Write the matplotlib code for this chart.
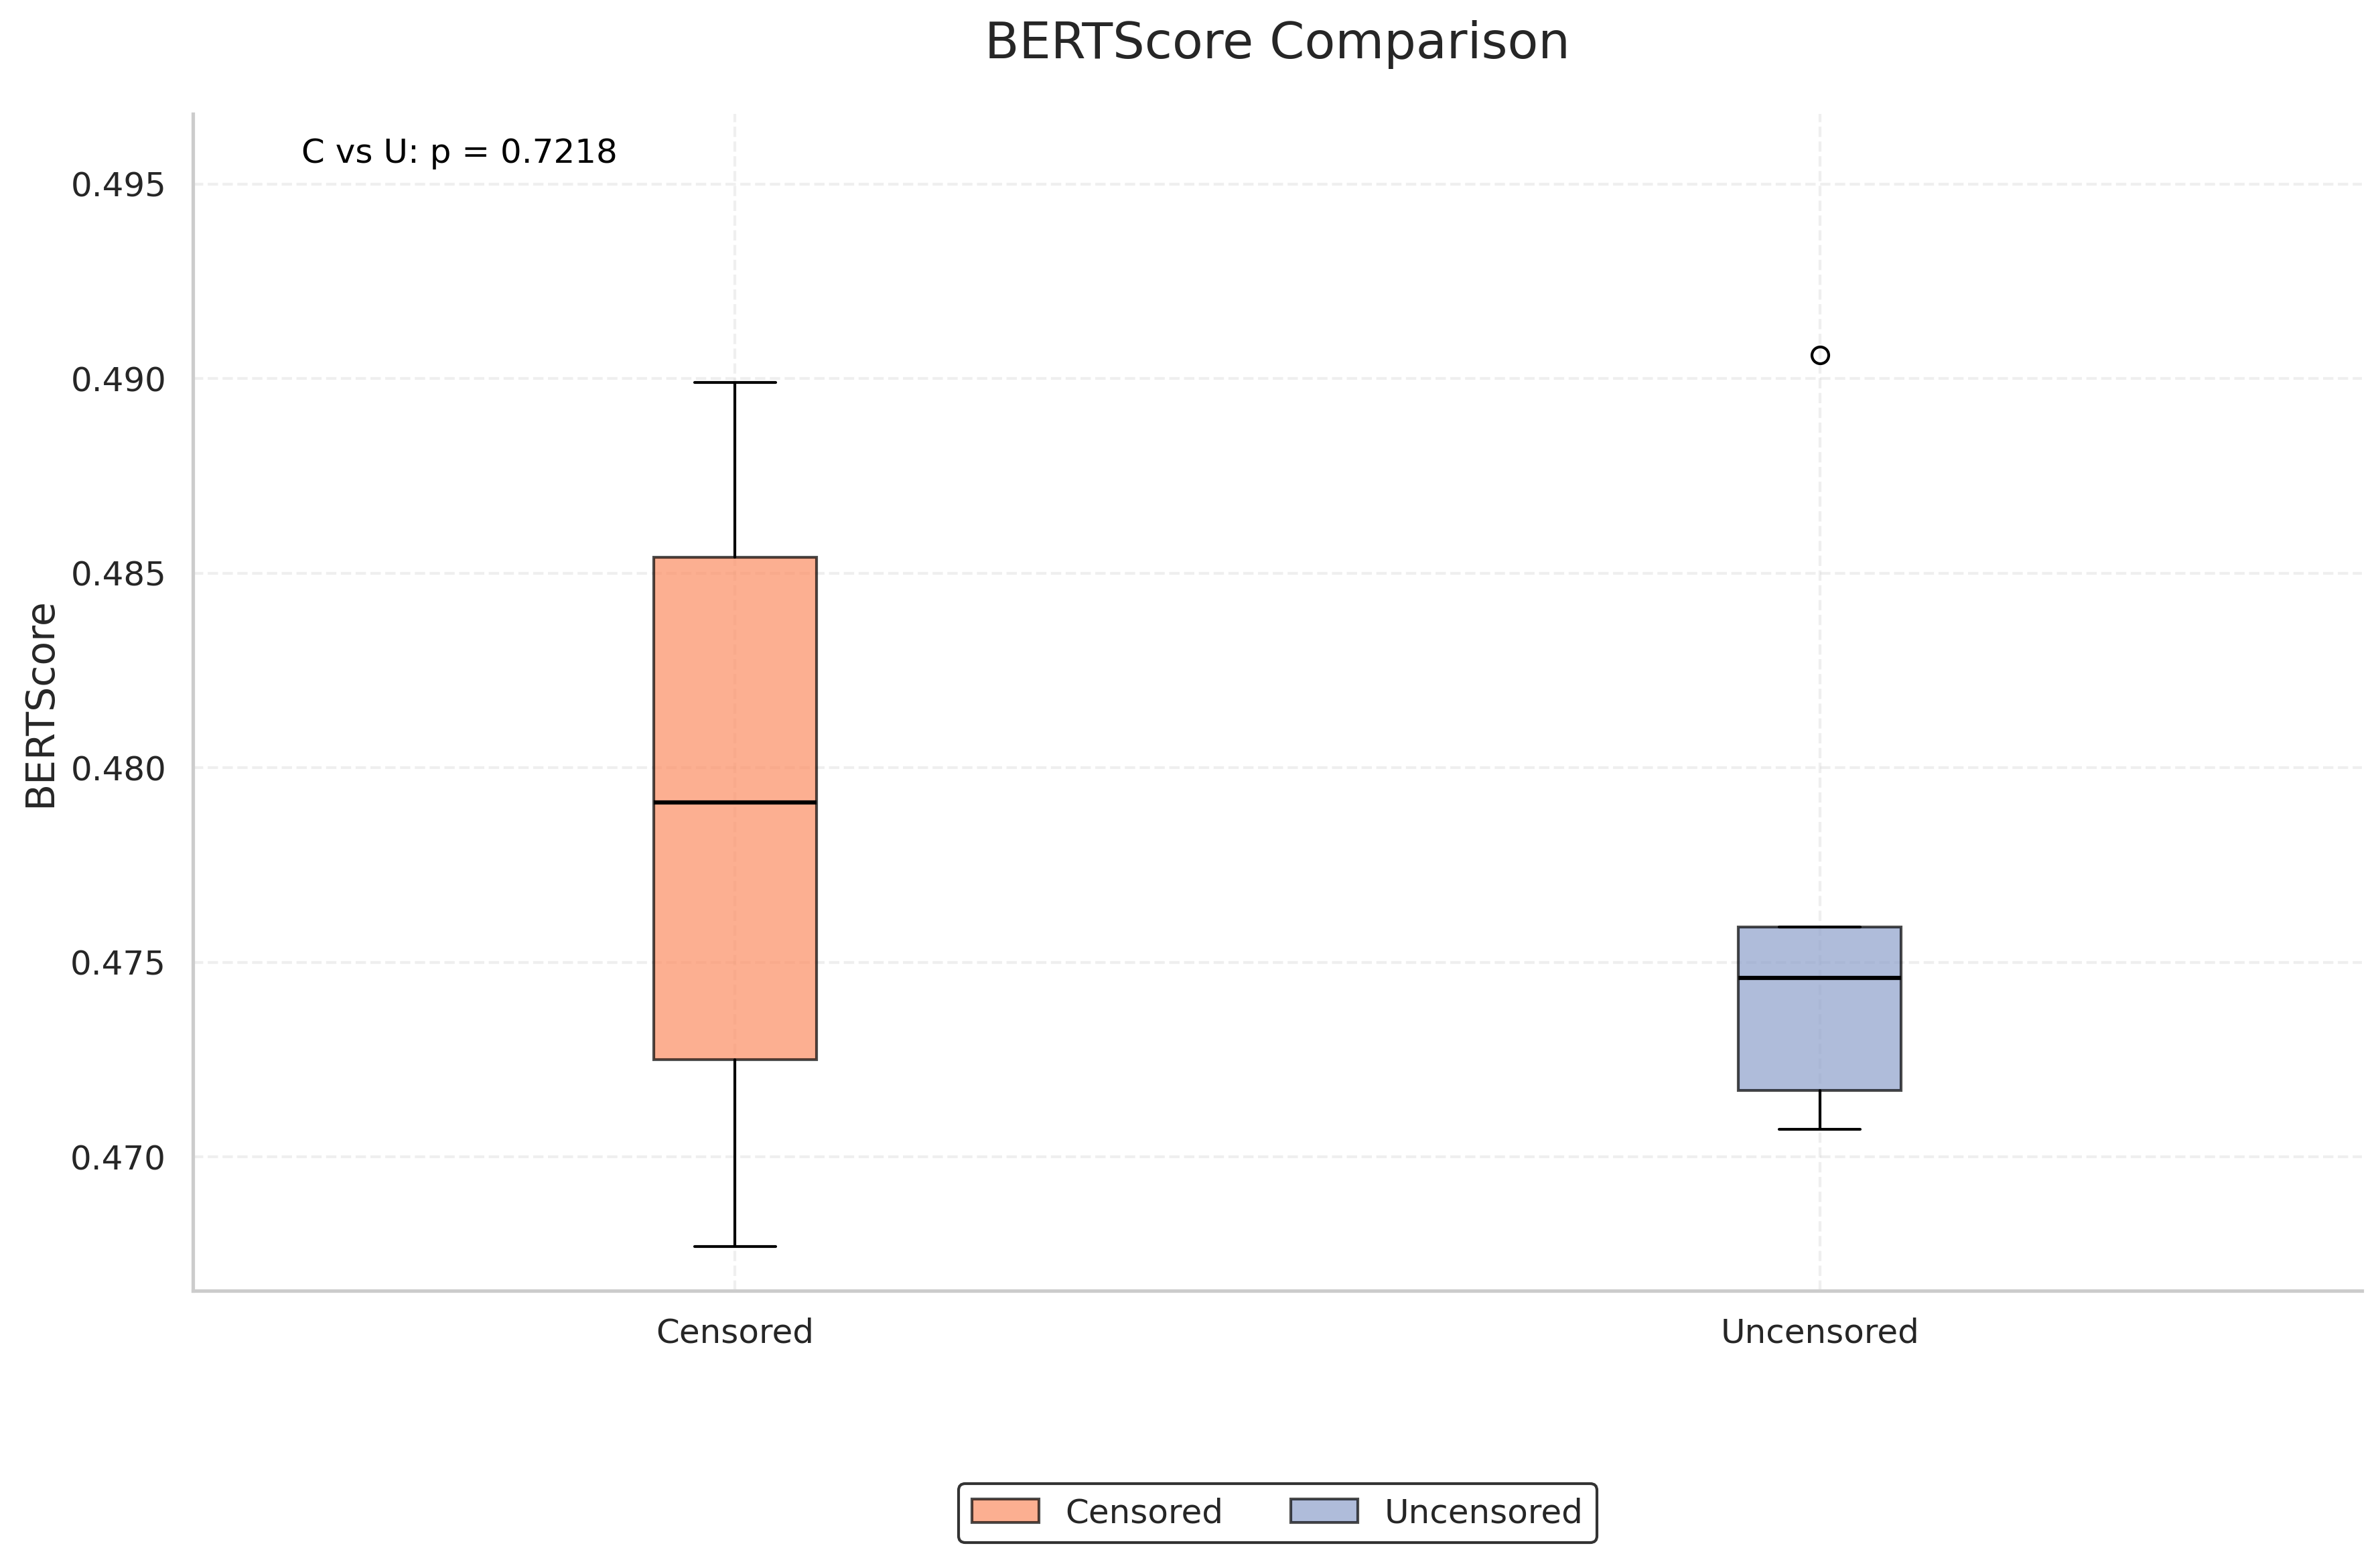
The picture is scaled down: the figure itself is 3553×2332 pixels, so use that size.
import numpy as np
import matplotlib
matplotlib.use('Agg')
import matplotlib.pyplot as plt
import seaborn as sns

# BERTScore per run
censored = [0.4677, 0.4725, 0.4791, 0.4854, 0.4899]
uncensored = [0.4707, 0.4717, 0.4746, 0.4759, 0.4906]
groups = ['Censored', 'Uncensored']
colors = ['#fc8d62', '#8da0cb']
p_value = 0.7218

sns.set_theme(style='whitegrid')
plt.rcParams['font.family'] = ['DejaVu Sans']

fig, ax = plt.subplots(figsize=(3553 / 300, 2332 / 300), dpi=300)
fig.subplots_adjust(left=0.081, right=0.9925, top=0.927, bottom=0.1737)

bp = ax.boxplot([censored, uncensored], patch_artist=True,
                medianprops=dict(color='black', linewidth=1.5),
                whiskerprops=dict(color='black', linewidth=1.0),
                capprops=dict(color='black', linewidth=1.0),
                flierprops=dict(marker='o', markerfacecolor='none',
                                markeredgecolor='black', markersize=6))
for patch, c in zip(bp['boxes'], colors):
    patch.set_facecolor(c)
    patch.set_edgecolor('black')
    patch.set_alpha(0.7)
    patch.set_linewidth(1.0)

ax.set_xticks([1, 2])
ax.set_xticklabels(groups, fontsize=12)
ax.tick_params(axis='y', labelsize=12)
ax.set_ylabel('BERTScore', fontsize=14)
ax.set_title('BERTScore Comparison', fontsize=18, pad=20)
ax.set_ylim(0.46656, 0.4968)
ax.set_xlim(0.5, 2.5)
ax.grid(True, linestyle='--', alpha=0.3)
sns.despine(ax=ax)

ax.text(0.05, 0.98, f'C vs U: p = {p_value:.4f}', transform=ax.transAxes,
        va='top', ha='left', fontsize=12, color='black')

ax.legend(bp['boxes'], groups, loc='upper center', bbox_to_anchor=(0.5, -0.15),
          ncol=2, fontsize=12, edgecolor='black', framealpha=0.8)

plt.savefig('out.png', dpi=300)
